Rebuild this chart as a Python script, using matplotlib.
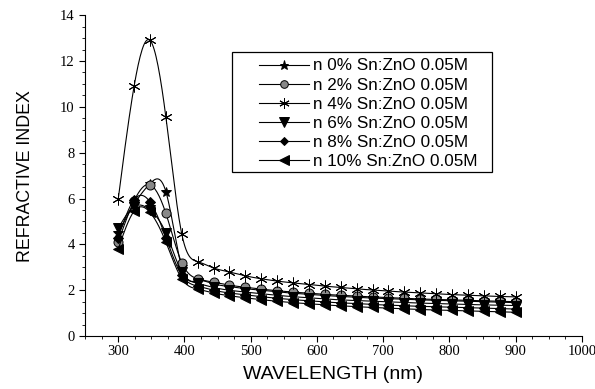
import numpy as np
import matplotlib
matplotlib.use("Agg")
import matplotlib.pyplot as plt
from matplotlib.ticker import MultipleLocator
from matplotlib.lines import Line2D
from matplotlib.patches import Rectangle

wavelength = [300, 324, 348, 372, 396, 420, 444, 468, 492, 516, 540, 564, 588,
              612, 636, 660, 684, 708, 732, 756, 780, 804, 828, 852, 876, 900]

n_0 = [4.5, 5.75, 6.65, 6.3, 3.0, 2.42, 2.28, 2.16, 2.07, 2.0, 1.93, 1.87, 1.82,
       1.77, 1.73, 1.69, 1.66, 1.63, 1.6, 1.58, 1.56, 1.54, 1.52, 1.5, 1.48, 1.46]
n_2 = [4.1, 5.9, 6.6, 5.35, 3.2, 2.5, 2.35, 2.22, 2.13, 2.05, 1.98, 1.92, 1.87,
       1.82, 1.78, 1.74, 1.71, 1.68, 1.65, 1.62, 1.6, 1.58, 1.56, 1.54, 1.52, 1.5]
n_4 = [5.97, 10.9, 12.9, 9.55, 4.45, 3.25, 2.97, 2.8, 2.63, 2.5, 2.4, 2.32, 2.25,
       2.18, 2.12, 2.06, 2.01, 1.96, 1.92, 1.88, 1.84, 1.81, 1.78, 1.75, 1.73, 1.71]
n_6 = [4.7, 5.65, 5.5, 4.5, 2.8, 2.3, 2.12, 2.0, 1.92, 1.85, 1.78, 1.72, 1.67,
       1.62, 1.58, 1.55, 1.52, 1.49, 1.46, 1.44, 1.42, 1.4, 1.38, 1.36, 1.35, 1.33]
n_8 = [4.3, 5.95, 5.85, 4.3, 2.65, 2.18, 2.0, 1.88, 1.8, 1.72, 1.65, 1.59, 1.54,
       1.49, 1.45, 1.42, 1.38, 1.35, 1.32, 1.3, 1.28, 1.26, 1.24, 1.22, 1.2, 1.18]
n_10 = [3.8, 5.45, 5.4, 4.1, 2.5, 2.05, 1.88, 1.76, 1.67, 1.59, 1.52, 1.46, 1.41,
        1.36, 1.32, 1.28, 1.25, 1.22, 1.19, 1.16, 1.14, 1.12, 1.1, 1.08, 1.06, 1.04]

labels = ["n 0% Sn:ZnO 0.05M", "n 2% Sn:ZnO 0.05M", "n 4% Sn:ZnO 0.05M",
          "n 6% Sn:ZnO 0.05M", "n 8% Sn:ZnO 0.05M", "n 10% Sn:ZnO 0.05M"]
series = [n_0, n_2, n_4, n_6, n_8, n_10]
markers = ["*", "o", (6, 2, 0), "v", "D", "<"]
msizes = [7.5, 6.5, 8.5, 7.5, 5.5, 7.5]
faces = ["black", "#888888", "black", "black", "black", "black"]

x_ticks = [300, 400, 500, 600, 700, 800, 900, 1000]
y_ticks = [0, 2, 4, 6, 8, 10, 12, 14]


def natural_spline(x, y, num=400):
    x = np.asarray(x, float)
    y = np.asarray(y, float)
    n = len(x)
    h = np.diff(x)
    A = np.zeros((n, n))
    b = np.zeros(n)
    A[0, 0] = 1
    A[-1, -1] = 1
    for i in range(1, n - 1):
        A[i, i - 1] = h[i - 1]
        A[i, i] = 2 * (h[i - 1] + h[i])
        A[i, i + 1] = h[i]
        b[i] = 6 * ((y[i + 1] - y[i]) / h[i] - (y[i] - y[i - 1]) / h[i - 1])
    M = np.linalg.solve(A, b)
    xs = np.linspace(x[0], x[-1], num)
    idx = np.clip(np.searchsorted(x, xs) - 1, 0, n - 2)
    x0, x1 = x[idx], x[idx + 1]
    hh = x1 - x0
    t0 = x1 - xs
    t1 = xs - x0
    ys = (M[idx] * t0 ** 3 / (6 * hh) + M[idx + 1] * t1 ** 3 / (6 * hh)
          + (y[idx] / hh - M[idx] * hh / 6) * t0
          + (y[idx + 1] / hh - M[idx + 1] * hh / 6) * t1)
    return xs, ys


W, H = 595, 389
fig = plt.figure(figsize=(W / 100, H / 100), dpi=100)
ax = fig.add_axes([0.143, 0.136, 0.835, 0.825])

handles = []
for vals, lab, mk, ms, fc in zip(series, labels, markers, msizes, faces):
    xs, ys = natural_spline(wavelength, vals)
    ax.plot(xs, ys, color="black", lw=0.8)
    ax.plot(wavelength, vals, linestyle="none", marker=mk, ms=ms,
            mfc=fc, mec="black", mew=0.7)
    handles.append(Line2D([], [], color="black", lw=0.8, marker=mk, ms=ms - 1,
                          mfc=fc, mec="black", mew=0.7, label=lab))

ax.set_xlim(250, 1000)
ax.set_ylim(0, 14)
ax.set_xticks(x_ticks)
ax.set_yticks(y_ticks)
ax.xaxis.set_minor_locator(MultipleLocator(25))
ax.yaxis.set_minor_locator(MultipleLocator(0.5))
ax.spines["top"].set_visible(False)
ax.spines["right"].set_visible(False)
ax.tick_params(which="major", direction="out", length=4, width=0.8)
ax.tick_params(which="minor", direction="out", length=2, width=0.6)
for lbl in ax.get_xticklabels() + ax.get_yticklabels():
    lbl.set_fontfamily("Liberation Serif")
    lbl.set_fontsize(10.5)
ax.tick_params(axis="x", pad=2.5)

ax.set_xlabel("WAVELENGTH (nm)", fontfamily="Liberation Sans", fontsize=14, labelpad=6)
ax.set_ylabel("REFRACTIVE INDEX", fontfamily="Liberation Sans", fontsize=12.8, labelpad=19)

leg = ax.legend(handles=handles, loc="upper left",
                bbox_to_anchor=(259 / W, 1 - 58.5 / H), bbox_transform=fig.transFigure,
                prop={"family": "Liberation Sans", "size": 12.3},
                frameon=False, handlelength=2.9, handletextpad=0.25,
                labelspacing=0.245, borderpad=0, borderaxespad=0)

fig.canvas.draw()
bb = leg.get_window_extent()
x0 = bb.x0 - 27
x1 = bb.x1 + 15
y0 = bb.y0 - 3
y1 = bb.y1 + 6.5
frame = Rectangle((x0 / W, y0 / H), (x1 - x0) / W, (y1 - y0) / H,
                  transform=fig.transFigure, facecolor="white",
                  edgecolor="black", lw=0.9, zorder=4)
fig.add_artist(frame)
leg.set_zorder(5)
leg.remove()
fig.add_artist(leg)

fig.savefig("out.png", dpi=100)
